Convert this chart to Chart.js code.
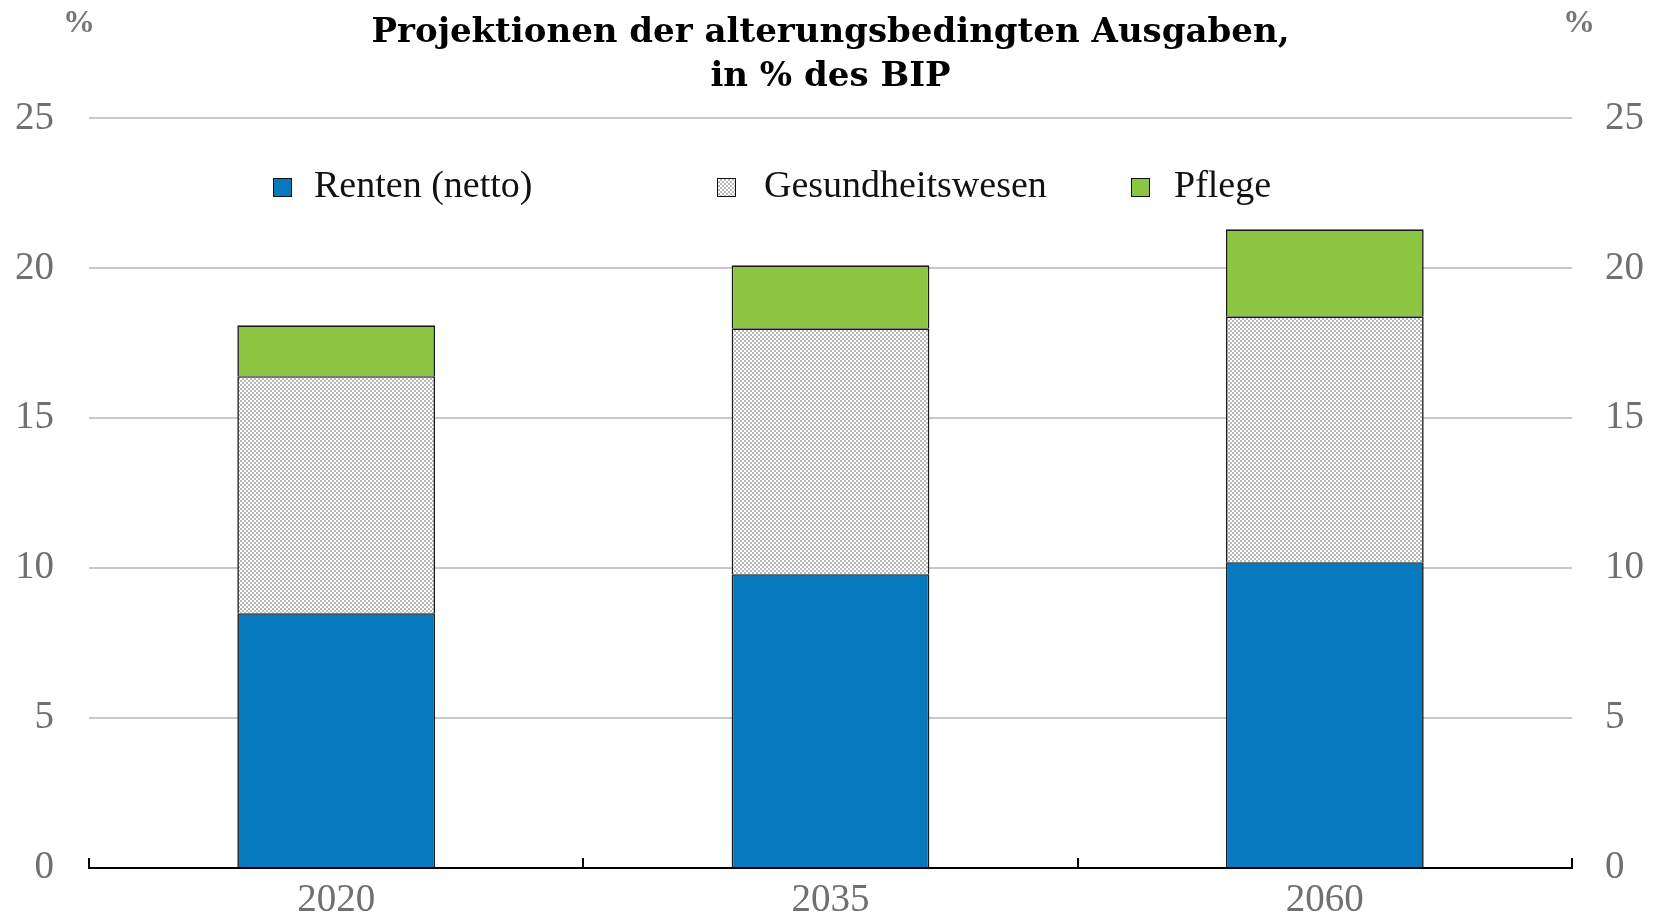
<!DOCTYPE html>
<html>
<head>
<meta charset="utf-8">
<script src="https://cdn.jsdelivr.net/npm/chart.js@4.4.1/dist/chart.umd.min.js"></script>
<style>
  html, body { margin: 0; padding: 0; background: #fff; }
  #wrap { position: relative; width: 1661px; height: 920px; }
  #chart { position: absolute; left: 0; top: 0; }
  .pct { position: absolute; top: 3px; font: bold 32px "Liberation Serif", serif; color: #777; }
  .leg { position: absolute; top: 162px; display: flex; align-items: center; font: 38px "Liberation Serif", serif; color: #111; white-space: nowrap; }
  .leg .box { width: 17px; height: 17px; border: 1.5px solid #111; margin-top: 6px; }
</style>
</head>
<body>
<div id="wrap">
  <canvas id="chart" width="1661" height="920"></canvas>
  <div class="pct" style="left:63px">%</div>
  <div class="pct" style="left:1563px">%</div>
  <div id="legend"></div>
</div>
<script>
const years = ["2020", "2035", "2060"];
const renten = [8.5, 9.8, 10.2];
const gesundheit = [7.9, 8.2, 8.2];
const pflege = [1.7, 2.1, 2.9];
const yTicks = [0, 5, 10, 15, 20, 25];

const titleLines = ["Projektionen der alterungsbedingten Ausgaben,", "in % des BIP"];
const blue = "#0679bf";
const green = "#8cc641";
const edge = "#1a1a1a";
const tickGray = "#707070";

// small checker pattern for the health-care segments
function makePattern() {
  const c = document.createElement("canvas");
  c.width = 4;
  c.height = 4;
  const g = c.getContext("2d");
  g.fillStyle = "#fff";
  g.fillRect(0, 0, 4, 4);
  g.fillStyle = "#b8b8b8";
  g.fillRect(0, 0, 2, 2);
  g.fillRect(2, 2, 2, 2);
  return g.createPattern(c, "repeat");
}

const ctx = document.getElementById("chart").getContext("2d");
const checker = makePattern();

// short ticks pointing up from the x axis at the category borders
const upTicks = {
  id: "upTicks",
  afterDraw(chart) {
    const xs = chart.scales.x;
    const c = chart.ctx;
    c.save();
    c.strokeStyle = "#000";
    c.lineWidth = 2;
    for (let i = 0; i <= years.length; i++) {
      const px = Math.round(xs.getPixelForValue(i - 0.5));
      c.beginPath();
      c.moveTo(px, xs.top);
      c.lineTo(px, xs.top - 10);
      c.stroke();
    }
    c.restore();
  }
};

const tickFont = { family: "Liberation Serif", size: 39 };

// fixed axis width, and no extra room reserved for the end labels
function fitSide(s) {
  s.width = 89;
  s.paddingTop = 0;
  s.paddingBottom = 0;
}

const chart = new Chart(ctx, {
  type: "bar",
  data: {
    labels: years,
    datasets: [
      { label: "Renten (netto)", data: renten, backgroundColor: blue },
      { label: "Gesundheitswesen", data: gesundheit, backgroundColor: checker },
      { label: "Pflege", data: pflege, backgroundColor: green }
    ].map(d => Object.assign(d, {
      borderColor: edge,
      borderWidth: 1.6,
      barPercentage: 0.4,
      categoryPercentage: 1
    }))
  },
  options: {
    responsive: false,
    animation: false,
    layout: { padding: 0 },
    plugins: {
      legend: { display: false },
      tooltip: { enabled: false },
      title: {
        display: true,
        text: titleLines,
        color: "#000",
        font: { family: "DejaVu Serif", weight: "bold", size: 34, lineHeight: 1.3 },
        padding: { top: 11, bottom: 19 }
      }
    },
    scales: {
      x: {
        stacked: true,
        offset: true,
        grid: { display: true, drawOnChartArea: false, drawTicks: false },
        border: { display: true, color: "#000", width: 2 },
        ticks: { font: tickFont, color: tickGray, padding: 9 },
        afterFit: s => { s.height = 52; }
      },
      y: {
        stacked: true,
        position: "left",
        min: 0,
        max: 25,
        afterBuildTicks: s => { s.ticks = yTicks.map(v => ({ value: v })); },
        grid: {
          color: c => (c.tick && c.tick.value === 0 ? "rgba(0,0,0,0)" : "#c8c8c8"),
          lineWidth: 2,
          drawTicks: false
        },
        border: { display: false },
        ticks: { font: tickFont, color: tickGray, padding: 35 },
        afterFit: fitSide
      },
      y2: {
        position: "right",
        min: 0,
        max: 25,
        afterBuildTicks: s => { s.ticks = yTicks.map(v => ({ value: v })); },
        grid: { drawOnChartArea: false, drawTicks: false },
        border: { display: false },
        ticks: { font: tickFont, color: tickGray, padding: 33 },
        afterFit: fitSide
      }
    }
  },
  plugins: [upTicks]
});

// html legend built from the chart's datasets
const legendLeft = [273, 717, 1131];
const legendGap = [22, 28, 24];
const legendEl = document.getElementById("legend");
chart.data.datasets.forEach((ds, i) => {
  const item = document.createElement("div");
  item.className = "leg";
  item.style.left = legendLeft[i] + "px";
  const box = document.createElement("span");
  box.className = "box";
  box.style.marginRight = legendGap[i] + "px";
  if (ds.backgroundColor === checker) {
    box.style.background = "repeating-conic-gradient(#b8b8b8 0 25%, #fff 0 50%) 0 0 / 4px 4px";
  } else {
    box.style.background = ds.backgroundColor;
  }
  const txt = document.createElement("span");
  txt.textContent = ds.label;
  item.appendChild(box);
  item.appendChild(txt);
  legendEl.appendChild(item);
});
</script>
</body>
</html>
